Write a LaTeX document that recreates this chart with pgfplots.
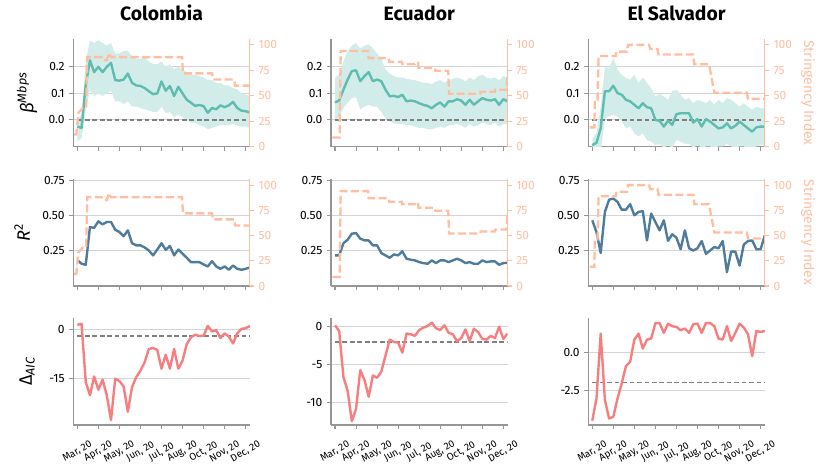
\documentclass[border=0pt]{standalone}
\usepackage{fontspec}
\setmainfont{Fira Sans}
\usepackage{pgfplots}
\pgfplotsset{compat=1.18}
\usepackage{pgfplotstable}

\definecolor{tealc}{RGB}{94,189,176}
\definecolor{bandc}{RGB}{210,237,233}
\definecolor{strc}{RGB}{255,190,160}
\definecolor{bluec}{RGB}{79,124,156}
\definecolor{redc}{RGB}{247,126,126}
\definecolor{spine}{RGB}{150,150,150}
\definecolor{gridc}{RGB}{212,212,212}
\definecolor{zeroc}{RGB}{128,128,128}

\pgfplotstableread{
x b up lo r a
0 -0.025 0.00 -0.08 0.18 1.4
0.2 -0.03 0.02 -0.07 0.153 1.8
0.4 0.13 0.22 0.04 0.146 -16.2
0.6 0.225 0.30 0.11 0.416 -20.3
0.8 0.18 0.29 0.09 0.41 -14.5
1.0 0.20 0.30 0.10 0.457 -18.6
1.2 0.18 0.29 0.09 0.435 -15.5
1.4 0.20 0.28 0.10 0.452 -20.3
1.6 0.215 0.29 0.11 0.452 -28.0
1.8 0.15 0.25 0.07 0.397 -15.2
2.0 0.148 0.25 0.07 0.38 -15.9
2.2 0.152 0.26 0.06 0.35 -17.6
2.4 0.175 0.26 0.07 0.392 -25.4
2.6 0.14 0.24 0.05 0.30 -17.8
2.8 0.13 0.23 0.05 0.285 -14.7
3.0 0.128 0.23 0.045 0.285 -12.7
3.2 0.12 0.24 0.04 0.27 -10.1
3.4 0.108 0.22 0.035 0.248 -6.0
3.6 0.097 0.21 0.03 0.213 -5.7
3.8 0.10 0.21 0.03 0.255 -6.3
4.0 0.145 0.22 0.05 0.30 -12.1
4.2 0.11 0.20 0.025 0.253 -7.8
4.4 0.128 0.21 0.03 0.28 -12.1
4.6 0.09 0.19 0.01 0.213 -6.0
4.8 0.125 0.20 0.02 0.255 -12.1
5.0 0.10 0.19 0.01 0.225 -9.6
5.2 0.076 0.18 0.00 0.196 -4.5
5.4 0.065 0.17 -0.01 0.165 -2.4
5.6 0.053 0.17 -0.01 0.165 -1.6
5.8 0.056 0.165 -0.02 0.165 -2.0
6.0 0.052 0.16 -0.025 0.148 -1.9
6.2 0.027 0.15 -0.035 0.134 1.1
6.4 0.045 0.15 -0.03 0.172 -0.6
6.6 0.04 0.14 -0.025 0.134 -0.2
6.8 0.055 0.14 -0.02 0.117 -2.6
7.0 0.048 0.13 -0.02 0.134 -1.2
7.2 0.055 0.13 -0.02 0.11 -2.2
7.4 0.068 0.12 -0.015 0.141 -4.3
7.6 0.045 0.115 -0.02 0.117 -1.2
7.8 0.035 0.10 -0.025 0.11 0.2
8.0 0.033 0.095 -0.025 0.117 0.4
8.2 0.028 0.09 -0.03 0.127 1.1
}\CO

\pgfplotstableread{
x b up lo r a
0 0.066 0.16 0.0 0.213 0.18
0.2 0.073 0.17 0.01 0.213 -0.58
0.4 0.114 0.22 0.044 0.30 -6.6
0.6 0.152 0.26 0.065 0.325 -8.4
0.8 0.184 0.28 0.082 0.368 -12.4
1.0 0.187 0.29 0.085 0.373 -10.8
1.2 0.146 0.27 0.04 0.333 -5.7
1.4 0.165 0.28 0.05 0.32 -7.0
1.6 0.18 0.285 0.057 0.32 -9.2
1.8 0.146 0.27 0.05 0.285 -6.4
2.0 0.152 0.25 0.05 0.285 -6.7
2.2 0.146 0.23 0.03 0.23 -5.9
2.4 0.114 0.19 0.006 0.213 -3.8
2.6 0.089 0.175 -0.005 0.196 -1.7
2.8 0.091 0.165 -0.013 0.22 -2.0
3.0 0.086 0.16 -0.015 0.213 -2.1
3.2 0.095 0.16 -0.015 0.242 -3.4
3.4 0.07 0.155 -0.02 0.189 -0.9
3.6 0.073 0.152 -0.02 0.182 -1.0
3.8 0.07 0.15 -0.025 0.177 -1.2
4.0 0.063 0.145 -0.03 0.165 -0.44
4.2 0.057 0.14 -0.03 0.158 -0.13
4.4 0.053 0.14 -0.035 0.153 0.1
4.6 0.044 0.135 -0.035 0.177 0.53
4.8 0.057 0.145 -0.03 0.158 -0.2
5.0 0.066 0.15 -0.025 0.177 -0.44
5.2 0.05 0.14 -0.03 0.177 0.18
5.4 0.07 0.15 -0.02 0.165 -0.8
5.6 0.07 0.155 -0.02 0.177 -1.0
5.8 0.078 0.16 -0.015 0.189 -1.9
6.0 0.073 0.155 -0.02 0.177 -1.5
6.2 0.057 0.145 -0.03 0.158 -0.36
6.4 0.076 0.16 -0.015 0.165 -1.9
6.6 0.057 0.15 -0.025 0.153 -0.27
6.8 0.07 0.165 -0.02 0.153 -0.7
7.0 0.082 0.17 -0.01 0.177 -1.6
7.2 0.076 0.16 -0.015 0.165 -1.7
7.4 0.073 0.155 -0.02 0.17 -1.2
7.6 0.078 0.16 -0.01 0.17 -1.5
7.8 0.057 0.15 -0.025 0.146 0.0
8.0 0.078 0.165 -0.015 0.158 -1.6
8.2 0.07 0.16 -0.015 0.16 -0.9
}\EC

\pgfplotstableread{
x b up lo r a
0 -0.095 -0.07 -0.13 0.464 -4.55
0.2 -0.086 -0.05 -0.13 0.38 -3.06
0.4 -0.032 0.05 -0.12 0.23 1.29
0.6 0.108 0.20 0.006 0.524 -3.17
0.8 0.108 0.195 0.015 0.612 -4.4
1.0 0.129 0.234 0.019 0.62 -4.29
1.2 0.101 0.19 0.012 0.596 -3.06
1.4 0.095 0.17 -0.005 0.54 -2.05
1.6 0.076 0.158 -0.032 0.54 -0.89
1.8 0.07 0.152 -0.025 0.58 -0.6
2.0 0.057 0.17 -0.05 0.50 0.89
2.2 0.044 0.139 -0.063 0.524 1.29
2.4 0.063 0.16 -0.05 0.53 0.29
2.6 0.048 0.14 -0.076 0.32 0.89
2.8 0.044 0.12 -0.082 0.512 0.96
3.0 0.0 0.089 -0.095 0.452 2.0
3.2 -0.003 0.10 -0.09 0.392 2.0
3.4 -0.025 0.089 -0.105 0.464 1.34
3.6 -0.003 0.076 -0.095 0.317 1.96
3.8 -0.019 0.108 -0.105 0.364 1.79
4.0 0.022 0.114 -0.076 0.34 1.74
4.2 0.025 0.095 -0.082 0.257 1.52
4.4 0.025 0.076 -0.09 0.392 1.63
4.6 0.025 0.082 -0.09 0.264 1.34
4.8 -0.01 0.063 -0.105 0.248 1.92
5.0 0.003 0.076 -0.095 0.264 1.96
5.2 -0.025 0.07 -0.105 0.316 1.34
5.4 0.003 0.063 -0.1 0.224 2.0
5.6 -0.006 0.076 -0.1 0.248 2.0
5.8 -0.019 0.057 -0.105 0.273 1.79
6.0 -0.032 0.076 -0.1 0.264 0.96
6.2 -0.028 0.063 -0.1 0.316 0.89
6.4 -0.013 0.082 -0.09 0.093 1.79
6.6 -0.032 0.076 -0.1 0.24 0.8
6.8 -0.022 0.063 -0.105 0.24 1.34
7.0 -0.006 0.05 -0.1 0.14 1.96
7.2 -0.019 0.063 -0.1 0.29 1.7
7.4 -0.032 0.05 -0.105 0.316 1.25
7.6 -0.044 0.038 -0.11 0.32 -0.22
7.8 -0.028 0.05 -0.1 0.257 1.47
8.0 -0.025 0.044 -0.095 0.257 1.4
8.2 -0.025 0.044 -0.095 0.356 1.47
}\ES

\pgfplotstableread{
x s
-0.15 12
-0.05 12
0.05 33
0.25 38
0.42 38
0.47 88
1.15 88
1.25 85
1.4 85
1.5 92
1.6 88
4.98 88
5.02 72
6.4 72
6.45 66
7.45 66
7.5 60
8.2 60
}\SCO

\pgfplotstableread{
x s
-0.12 9
0.22 9
0.27 94
1.58 94
1.6 87
2.55 87
2.58 83.5
3.18 83.5
3.2 81
3.8 81
3.82 82.5
3.95 82.5
3.97 77.5
4.75 77.5
4.77 74.6
5.38 74.6
5.42 52
6.9 52
6.92 54
7.6 54
7.62 56
8.15 56
8.2 72
}\SEC

\pgfplotstableread{
x s
-0.12 19
0.1 19
0.12 46
0.25 46
0.3 89
1.12 89
1.15 93.4
1.65 93.4
1.7 100
2.7 100
2.75 96
3.1 96
3.15 90.5
4.8 90.5
4.85 81
5.55 81
5.8 53
7.35 53
7.4 47
8.2 47
}\SES

\pgfplotsset{
  base/.style={scale only axis, width=132.4pt, height=80.6pt, xmin=-0.19, xmax=8.2,
    anchor=south west, tick align=outside, major tick length=3pt,
    yticklabel style={font=\fontsize{9}{10}\selectfont},
    /pgf/number format/assume math mode=true},
  mainax/.style={base, axis x line*=bottom, axis y line*=left,
    axis line style={draw=spine, line width=0.9pt, -},
    tick style={spine, line width=0.8pt}, xtick={0,...,8}, xticklabels={},
    ymajorgrids, grid style={gridc, line width=0.7pt},
    ylabel style={at={(axis description cs:-0.262,0.5)}, anchor=center, font=\fontsize{13.5}{15}\selectfont},
    title style={at={(axis description cs:0.5,1.167)}, anchor=center, font=\bfseries\fontsize{14.5}{16}\selectfont}},
  strax/.style={base, axis x line=none, axis y line*=right, ymin=0, ymax=105.5,
    ytick={0,25,50,75,100}, yticklabels={0,25,50,75,100},
    axis line style={draw=strc, line width=0.9pt, -}, tick style={strc, line width=0.8pt},
    yticklabel style={text=strc},
    ylabel style={at={(axis description cs:1.245,0.5)}, anchor=center, rotate=180, text=strc, font=\fontsize{10.5}{12}\selectfont}},
  strline/.style={strc, line width=1.75pt, dash pattern=on 6pt off 2.6pt},
  zeroline/.style={zeroc, line width=1.1pt, dash pattern=on 3.6pt off 2pt},
  dline/.style={line width=1.8pt, line join=round},
  bottomrow/.style={xticklabels={{Mar, 20},{Apr, 20},{May, 20},{Jun, 20},{Jul, 20},{Aug, 20},{Oct, 20},{Nov, 20},{Dec, 20}},
    xticklabel style={font=\fontsize{7.5}{8}\selectfont, anchor=center, yshift=-17pt, rotate=30}},
}

\begin{document}
\begin{tikzpicture}
\path[use as bounding box] (0,0) rectangle (622.5pt,356.25pt);

% ---------- Row 1 ----------
\begin{axis}[mainax, at={(55pt,246.2pt)}, ymin=-0.101, ymax=0.304, ytick={0,0.1,0.2}, yticklabels={0.0,0.1,0.2},
  title={Colombia}, ylabel={\itshape β\textsuperscript{Mbps}}]
\addplot[draw=none, stack plots=y, forget plot] table[x=x,y=lo]{\CO};
\addplot[fill=bandc, draw=none, stack plots=y] table[x=x,y expr=\thisrow{up}-\thisrow{lo}]{\CO} \closedcycle;
\addplot[zeroline] coordinates {(0,0) (8.2,0)};
\addplot[tealc, dline] table[x=x,y=b]{\CO};
\end{axis}
\begin{axis}[strax, at={(55pt,246.2pt)}]
\addplot[strline] table[x=x,y=s]{\SCO};
\end{axis}

\begin{axis}[mainax, at={(248.25pt,246.2pt)}, ymin=-0.101, ymax=0.304, ytick={0,0.1,0.2}, yticklabels={0.0,0.1,0.2},
  title={Ecuador}]
\addplot[draw=none, stack plots=y, forget plot] table[x=x,y=lo]{\EC};
\addplot[fill=bandc, draw=none, stack plots=y] table[x=x,y expr=\thisrow{up}-\thisrow{lo}]{\EC} \closedcycle;
\addplot[zeroline] coordinates {(0,0) (8.2,0)};
\addplot[tealc, dline] table[x=x,y=b]{\EC};
\end{axis}
\begin{axis}[strax, at={(248.25pt,246.2pt)}]
\addplot[strline] table[x=x,y=s]{\SEC};
\end{axis}

\begin{axis}[mainax, at={(441.2pt,246.2pt)}, ymin=-0.101, ymax=0.304, ytick={0,0.1,0.2}, yticklabels={0.0,0.1,0.2},
  title={El Salvador}]
\addplot[draw=none, stack plots=y, forget plot] table[x=x,y=lo]{\ES};
\addplot[fill=bandc, draw=none, stack plots=y] table[x=x,y expr=\thisrow{up}-\thisrow{lo}]{\ES} \closedcycle;
\addplot[zeroline] coordinates {(0,0) (8.2,0)};
\addplot[tealc, dline] table[x=x,y=b]{\ES};
\end{axis}
\begin{axis}[strax, at={(441.2pt,246.2pt)}, ylabel={Stringency Index}]
\addplot[strline] table[x=x,y=s]{\SES};
\end{axis}

% ---------- Row 2 ----------
\begin{axis}[mainax, at={(55pt,141.75pt)}, ymin=-0.006, ymax=0.763, ytick={0.25,0.5,0.75}, yticklabels={0.25,0.50,0.75},
  ylabel={{\itshape R}\textsuperscript{2}}, ylabel style={at={(axis description cs:-0.29,0.5)}}]
\addplot[bluec, dline] table[x=x,y=r]{\CO};
\end{axis}
\begin{axis}[strax, at={(55pt,141.75pt)}, ymax=106.5]
\addplot[strline] table[x=x,y=s]{\SCO};
\end{axis}

\begin{axis}[mainax, at={(248.25pt,141.75pt)}, ymin=-0.006, ymax=0.763, ytick={0.25,0.5,0.75}, yticklabels={0.25,0.50,0.75}]
\addplot[bluec, dline] table[x=x,y=r]{\EC};
\end{axis}
\begin{axis}[strax, at={(248.25pt,141.75pt)}, ymax=106.5]
\addplot[strline] table[x=x,y=s]{\SEC};
\end{axis}

\begin{axis}[mainax, at={(441.2pt,141.75pt)}, ymin=-0.006, ymax=0.763, ytick={0.25,0.5,0.75}, yticklabels={0.25,0.50,0.75}]
\addplot[bluec, dline] table[x=x,y=r]{\ES};
\end{axis}
\begin{axis}[strax, at={(441.2pt,141.75pt)}, ymax=106.5, ylabel={Stringency Index}]
\addplot[strline] table[x=x,y=s]{\SES};
\end{axis}

% ---------- Row 3 ----------
\begin{axis}[mainax, bottomrow, at={(55pt,37.5pt)}, ymin=-29.5, ymax=3.7, ytick={-15,0}, yticklabels={-15,0},
  ylabel={Δ\textsubscript{\itshape AIC}}]
\addplot[zeroline] coordinates {(0,-2) (8.2,-2)};
\addplot[redc, dline] table[x=x,y=a]{\CO};
\end{axis}

\begin{axis}[mainax, bottomrow, at={(248.25pt,37.5pt)}, ymin=-12.9, ymax=1.2, ytick={-10,-5,0}, yticklabels={-10,-5,0}]
\addplot[zeroline] coordinates {(0,-2) (8.2,-2)};
\addplot[redc, dline] table[x=x,y=a]{\EC};
\end{axis}

\begin{axis}[mainax, bottomrow, at={(441.2pt,37.5pt)}, ymin=-4.84, ymax=2.37, ytick={-2.5,0}, yticklabels={-2.5,0.0}]
\addplot[zeroline] coordinates {(0,-2) (8.2,-2)};
\addplot[redc, dline] table[x=x,y=a]{\ES};
\end{axis}

\end{tikzpicture}
\end{document}
